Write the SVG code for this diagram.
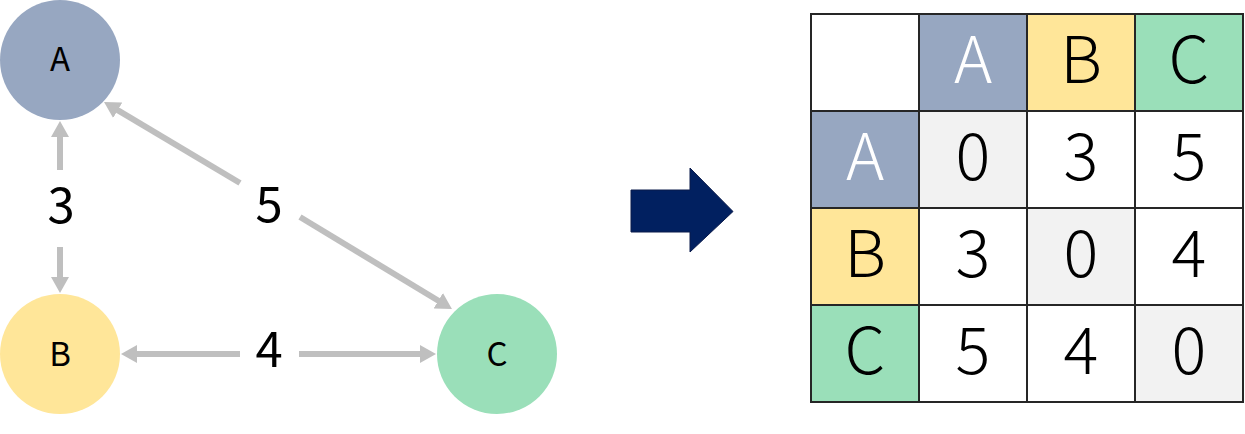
<svg xmlns="http://www.w3.org/2000/svg" width="1245" height="434" viewBox="0 0 1245 434">
<style>
text{font-family:"Noto Sans CJK KR","Noto Sans",sans-serif;text-anchor:middle;font-weight:300}
.nl{font-size:33px;fill:#000;font-weight:400}
.el{font-size:49px;fill:#000;font-weight:400}
.edge{stroke:#BFBFBF;stroke-width:6;fill:none}
.cell{stroke:#262626;stroke-width:2}
.tt{font-size:65px;fill:#000}
.tw{font-size:65px;fill:#fff}
</style>
<defs>
<marker id="ah" markerUnits="userSpaceOnUse" markerWidth="16" markerHeight="18" refX="6" refY="9" orient="auto" viewBox="0 0 16 18">
<path d="M0,0 L16,9 L0,18 z" fill="#BFBFBF"/>
</marker>
</defs>
<rect width="1245" height="434" fill="#fff"/>
<g id="connectors">
<line class="edge" x1="60" y1="170" x2="60" y2="131" marker-end="url(#ah)"/>
<line class="edge" x1="60" y1="247" x2="60" y2="283" marker-end="url(#ah)"/>
<text class="el" x="61" y="223">3</text>
<line class="edge" x1="240" y1="183" x2="112.6" y2="107.1" marker-end="url(#ah)"/>
<line class="edge" x1="300" y1="217" x2="443.4" y2="303.8" marker-end="url(#ah)"/>
<text class="el" x="269" y="222">5</text>
<line class="edge" x1="240" y1="354" x2="131" y2="354" marker-end="url(#ah)"/>
<line class="edge" x1="299" y1="354" x2="426" y2="354" marker-end="url(#ah)"/>
<text class="el" x="269" y="367">4</text>
</g>
<g id="node-A"><circle cx="60" cy="60" r="60" fill="#97A7C1"/><text class="nl" x="60" y="71">A</text></g>
<g id="node-B"><circle cx="60" cy="354" r="60" fill="#FFE699"/><text class="nl" x="60" y="366">B</text></g>
<g id="node-C"><circle cx="497" cy="354" r="60" fill="#9ADFB9"/><text class="nl" x="497" y="366">C</text></g>
<g id="big-arrow"><path d="M631,190 H690 V168 L733,211.5 L690,252 V232 H631 z" fill="#012060" stroke="#0a1a4a" stroke-width="1"/></g>
<g id="matrix">
<rect class="cell" x="811" y="14" width="108" height="97" fill="#fff"/>
<rect class="cell" x="919" y="14" width="108" height="97" fill="#97A7C1"/>
<rect class="cell" x="1027" y="14" width="108" height="97" fill="#FFE699"/>
<rect class="cell" x="1135" y="14" width="108" height="97" fill="#9ADFB9"/>
<rect class="cell" x="811" y="111" width="108" height="97" fill="#97A7C1"/>
<rect class="cell" x="919" y="111" width="108" height="97" fill="#F2F2F2"/>
<rect class="cell" x="1027" y="111" width="108" height="97" fill="#fff"/>
<rect class="cell" x="1135" y="111" width="108" height="97" fill="#fff"/>
<rect class="cell" x="811" y="208" width="108" height="97" fill="#FFE699"/>
<rect class="cell" x="919" y="208" width="108" height="97" fill="#fff"/>
<rect class="cell" x="1027" y="208" width="108" height="97" fill="#F2F2F2"/>
<rect class="cell" x="1135" y="208" width="108" height="97" fill="#fff"/>
<rect class="cell" x="811" y="305" width="108" height="97" fill="#9ADFB9"/>
<rect class="cell" x="919" y="305" width="108" height="97" fill="#fff"/>
<rect class="cell" x="1027" y="305" width="108" height="97" fill="#fff"/>
<rect class="cell" x="1135" y="305" width="108" height="97" fill="#F2F2F2"/>
<text class="tw" x="973" y="83">A</text>
<text class="tt" x="1081" y="83">B</text>
<text class="tt" x="1189" y="83">C</text>
<text class="tw" x="865" y="180">A</text>
<text class="tt" x="973" y="180">0</text>
<text class="tt" x="1081" y="180">3</text>
<text class="tt" x="1189" y="180">5</text>
<text class="tt" x="865" y="277">B</text>
<text class="tt" x="973" y="277">3</text>
<text class="tt" x="1081" y="277">0</text>
<text class="tt" x="1189" y="277">4</text>
<text class="tt" x="865" y="374">C</text>
<text class="tt" x="973" y="374">5</text>
<text class="tt" x="1081" y="374">4</text>
<text class="tt" x="1189" y="374">0</text>
</g>
</svg>
